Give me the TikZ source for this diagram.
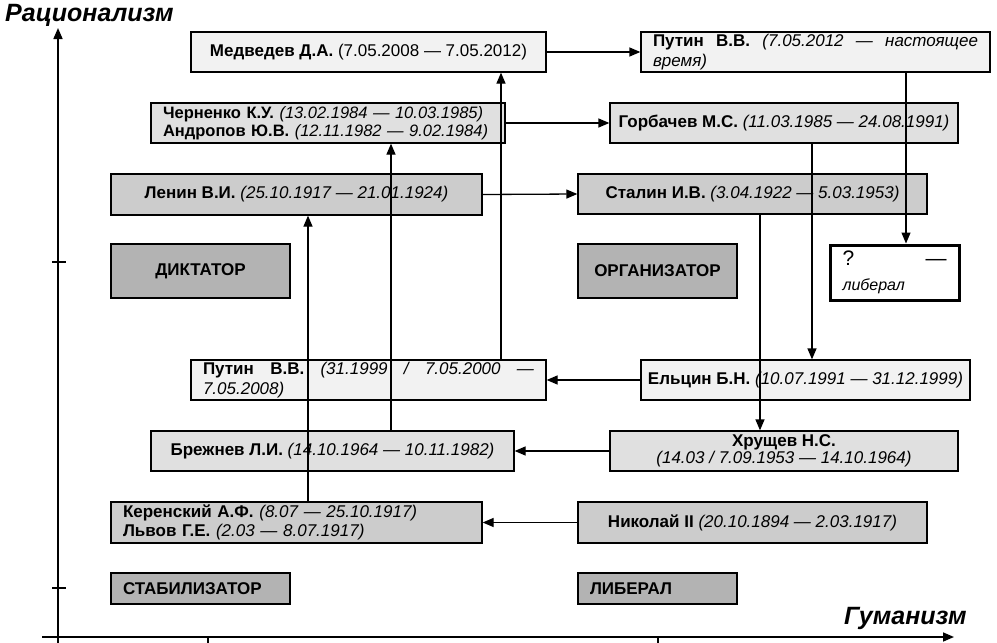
\documentclass[tikz,border=0pt]{standalone}
\usepackage{fontspec}
\setmainfont{Liberation Sans}
\usetikzlibrary{arrows.meta, calc}
\definecolor{gpale}{HTML}{F2F2F2}
\definecolor{glight}{HTML}{E0E0E0}
\definecolor{gmid}{HTML}{CCCCCC}
\definecolor{gdark}{HTML}{B3B3B3}

\begin{document}
\begin{tikzpicture}[x=1pt, y=-1pt,
            box/.style={draw, rectangle, line width=1.3pt, inner sep=0pt, minimum height=40,
                font=\fontsize{17}{19.5}\selectfont},
            role/.style={box, fill=gdark, font=\fontsize{17}{19.5}\selectfont\bfseries},
            arr/.style={line width=1.3pt, -{Triangle[length=11pt, width=9pt]}},
            axis/.style={line width=1.6pt}
        ]
        \tikzstyle{title}=[anchor=base west, inner sep=0pt, font=\fontsize{25}{27}\selectfont\bfseries\itshape]
        \useasboundingbox (0,0) rectangle (997,643);

        \draw[axis, -{Triangle[length=11pt, width=9pt]}] (58,643) -- (58,28);
        \draw[axis, -{Triangle[length=11pt, width=9pt]}] (42,637) -- (954,637);
        \draw[axis] (52,262) -- (66,262) (52,588) -- (66,588);
        \draw[axis] (208,637) -- (208,643) (658,637) -- (658,643);
        \node[title] (ratio) at (5,21) {Рационализм};
        \node[title] (human) at (844,624) {Гуманизм};

        \node[box, fill=gpale, minimum width=355] (medv) at (368.5,52) {\textbf{Медведев Д.А.} (7.05.2008 — 7.05.2012)};
        \node[box, fill=gpale, minimum width=349, text width=325, align=justify] (putinB) at (815.5,52) {\textbf{Путин В.В.} \textit{(7.05.2012 — настоящее время)}};
        \node[box, fill=glight, minimum width=354, text width=330, align=left, font=\fontsize{16.5}{18.5}\selectfont] (chern) at (328,123) {\mbox{\textbf{Черненко К.У.} \textit{(13.02.1984 — 10.03.1985)}}\\\mbox{\textbf{Андропов Ю.В.} \textit{(12.11.1982 — 9.02.1984)}}};
        \node[box, fill=glight, minimum width=348] (gorb) at (784,123) {\textbf{Горбачев М.С.} \textit{(11.03.1985 — 24.08.1991)}};
        \node[box, fill=gmid, minimum width=371, minimum height=41] (lenin) at (296.5,194.5) {\textbf{Ленин В.И.} \textit{(25.10.1917 — 21.01.1924)}};
        \node[box, fill=gmid, minimum width=349] (stalin) at (752.5,194) {\textbf{Сталин И.В.} \textit{(3.04.1922 — 5.03.1953)}};
        \node[role, minimum width=179, minimum height=54] (dikt) at (200.5,271) {ДИКТАТОР};
        \node[role, minimum width=159, minimum height=54] (org) at (657.5,271) {ОРГАНИЗАТОР};
        \node[draw, rectangle, line width=3pt, fill=white, inner sep=0pt, minimum width=129, minimum height=55,
            text width=104, align=left, font=\fontsize{16}{25}\selectfont] (q) at (894.5,272.5) {{\fontsize{21}{25}\selectfont ?\hfill —}\\{\itshape либерал}};
        \node[box, fill=gpale, minimum width=355, text width=331, align=justify] (putinA) at (368.5,380) {\textbf{Путин В.В.} \textit{(31.1999 / 7.05.2000 — 7.05.2008)}};
        \node[box, fill=gpale, minimum width=329] (yelts) at (805.5,380) {\textbf{Ельцин Б.Н.} \textit{(10.07.1991 — 31.12.1999)}};
        \node[box, fill=glight, minimum width=363] (brezh) at (332.5,451) {\textbf{Брежнев Л.И.} \textit{(14.10.1964 — 10.11.1982)}};
        \node[box, fill=glight, minimum width=348, align=center, font=\fontsize{17}{17.5}\selectfont] (khrush) at (784,451) {\textbf{Хрущев Н.С.}\\\textit{(14.03 / 7.09.1953 — 14.10.1964)}};
        \node[box, fill=gmid, minimum width=371, minimum height=41, text width=347, align=left] (keren) at (296.5,522.5) {\textbf{Керенский А.Ф.} \textit{(8.07 — 25.10.1917)}\\\textbf{Львов Г.Е.} \textit{(2.03 — 8.07.1917)}};
        \node[box, fill=gmid, minimum width=349, minimum height=41] (nikol) at (752.5,522.5) {\textbf{Николай II} \textit{(20.10.1894 — 2.03.1917)}};
        \node[role, minimum width=179, minimum height=31, text width=155, align=left] (stab) at (200.5,588.5) {СТАБИЛИЗАТОР};
        \node[role, minimum width=159, minimum height=31, text width=135, align=left] (liber) at (657.5,588.5) {ЛИБЕРАЛ};

        \draw[arr] (medv.east) -- (putinB.west);
        \draw[arr] (chern.east) -- (gorb.west);
        \draw[arr] (lenin.east) -- (stalin.west);
        \draw[arr] (yelts.west) -- (putinA.east);
        \draw[arr] (khrush.west) -- (brezh.east);
        \draw[arr] (nikol.west) -- (keren.east);
        \draw[arr] (putinB.south -| 906,0) -- (q.north -| 906,0);
        \draw[arr] (gorb.south -| 812,0) -- (yelts.north -| 812,0);
        \draw[arr] (stalin.south -| 760,0) -- (khrush.north -| 760,0);
        \draw[arr] (putinA.north -| 501,0) -- (medv.south -| 501,0);
        \draw[arr] (brezh.north -| 391,0) -- (chern.south -| 391,0);
        \draw[arr] (keren.north -| 308,0) -- (lenin.south -| 308,0);
    \end{tikzpicture}
\end{document}
